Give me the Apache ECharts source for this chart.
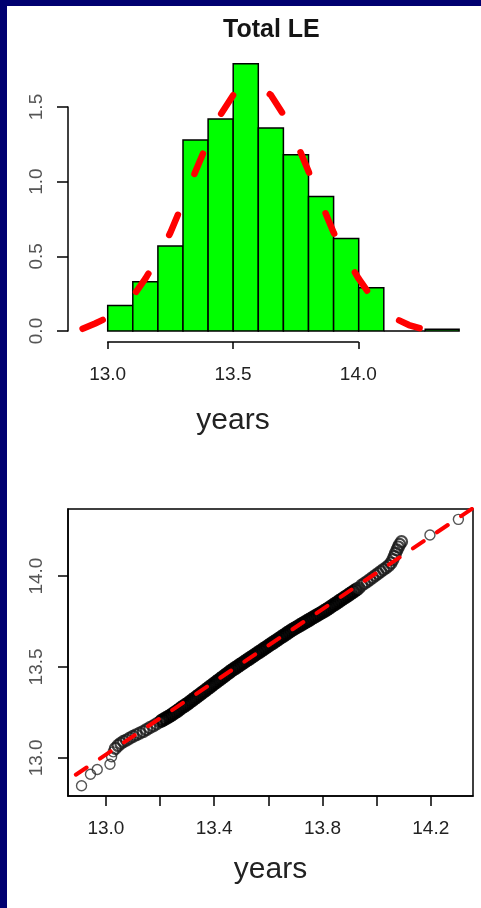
<!DOCTYPE html>
<html><head><meta charset="utf-8">
<script src="https://cdn.jsdelivr.net/npm/echarts@6/dist/echarts.min.js"></script>
<style>html,body{margin:0;padding:0;background:#fff;}#c{width:481px;height:908px;}</style>
</head><body><div id="c"></div>
<script>
// ---------- data ----------
const histTitle = 'Total LE';
const axisTitle = 'years';
// histogram bins (edges) and densities
const binEdges = [13.0, 13.1, 13.2, 13.3, 13.4, 13.5, 13.6, 13.7, 13.8, 13.9, 14.0, 14.1, 14.265, 14.4];
const binDensity = [0.17, 0.33, 0.57, 1.28, 1.42, 1.79, 1.36, 1.18, 0.90, 0.62, 0.29, 0.0, 0.012];
// fitted density curve
const curveX = [12.90, 12.95, 13.00, 13.05, 13.10, 13.15, 13.20, 13.25, 13.30, 13.35, 13.40, 13.45, 13.50, 13.55,
                13.60, 13.65, 13.70, 13.75, 13.80, 13.85, 13.90, 13.95, 14.00, 14.05, 14.10, 14.15, 14.20, 14.25];
const curveY = [0.015, 0.05, 0.09, 0.15, 0.23, 0.35, 0.49, 0.66, 0.86, 1.07, 1.27, 1.45, 1.58, 1.65,
                1.65, 1.58, 1.45, 1.27, 1.07, 0.86, 0.66, 0.49, 0.35, 0.23, 0.15, 0.08, 0.04, 0.015];
const histXTicks = [13.0, 13.5, 14.0];
const histYTicks = [0.0, 0.5, 1.0, 1.5];
// QQ plot points: theoretical (x) and sample (y) quantiles
const qqTheo = [12.910, 12.943, 12.968, 13.015, 13.021, 13.027,
  13.035, 13.045, 13.055, 13.065, 13.076, 13.088, 13.100, 13.112, 13.125, 13.138, 13.150, 13.162, 13.175, 13.187, 13.199,
  13.207, 13.215, 13.223, 13.231, 13.239, 13.247, 13.255, 13.263, 13.271, 13.279, 13.287, 13.295, 13.303, 13.311, 13.319,
  13.327, 13.335, 13.343, 13.351, 13.359, 13.367, 13.375, 13.383, 13.391, 13.399, 13.407, 13.415, 13.423, 13.431, 13.439,
  13.447, 13.455, 13.463, 13.471, 13.479, 13.487, 13.495, 13.503, 13.511, 13.519, 13.527, 13.535, 13.543, 13.551, 13.559,
  13.567, 13.575, 13.583, 13.591, 13.599, 13.607, 13.615, 13.623, 13.631, 13.639, 13.647, 13.655, 13.663, 13.671, 13.679,
  13.687, 13.695, 13.703, 13.711, 13.719, 13.727, 13.735, 13.743, 13.751, 13.759, 13.767, 13.775, 13.783, 13.791, 13.799,
  13.807, 13.815, 13.823, 13.831, 13.839, 13.847, 13.855, 13.863, 13.871, 13.879, 13.887, 13.895, 13.903, 13.911, 13.919,
  13.927, 13.935, 13.945, 13.955, 13.965, 13.975, 13.985, 13.995, 14.005, 14.015, 14.025, 14.035, 14.045, 14.053, 14.060,
  14.065, 14.070, 14.075, 14.080, 14.085, 14.092, 14.197, 14.302];
const qqSample = [12.846, 12.910, 12.936, 12.965, 13.006, 13.033,
  13.052, 13.068, 13.080, 13.090, 13.098, 13.108, 13.118, 13.127, 13.136, 13.145, 13.156, 13.166, 13.176, 13.187, 13.198,
  13.205, 13.212, 13.219, 13.226, 13.233, 13.241, 13.249, 13.257, 13.266, 13.275, 13.283, 13.291, 13.299, 13.308, 13.317,
  13.326, 13.335, 13.344, 13.353, 13.362, 13.371, 13.380, 13.389, 13.398, 13.407, 13.416, 13.425, 13.434, 13.443, 13.452,
  13.461, 13.470, 13.479, 13.487, 13.495, 13.503, 13.511, 13.519, 13.527, 13.535, 13.543, 13.551, 13.559, 13.567, 13.575,
  13.583, 13.591, 13.599, 13.607, 13.615, 13.623, 13.631, 13.639, 13.647, 13.655, 13.663, 13.671, 13.679, 13.687, 13.695,
  13.703, 13.710, 13.717, 13.724, 13.731, 13.738, 13.745, 13.752, 13.759, 13.766, 13.773, 13.780, 13.787, 13.794, 13.801,
  13.808, 13.815, 13.823, 13.831, 13.839, 13.847, 13.855, 13.863, 13.871, 13.879, 13.887, 13.895, 13.903, 13.911, 13.919,
  13.927, 13.935, 13.950, 13.960, 13.970, 13.981, 13.992, 14.003, 14.014, 14.025, 14.036, 14.046, 14.058, 14.072, 14.090,
  14.108, 14.126, 14.144, 14.160, 14.174, 14.189, 14.226, 14.312];
const qqLineX = [12.80, 14.40];
const qqLineY = [12.818, 14.418];
const qqXTicks = [13.0, 13.2, 13.4, 13.6, 13.8, 14.0, 14.2];
const qqXLabels = [13.0, 13.4, 13.8, 14.2];
const qqYTicks = [13.0, 13.5, 14.0];

// ---------- chart ----------
const FONT = 'Liberation Sans, Arial, sans-serif';
const fmt1 = v => Number(v).toFixed(1);
const chart = echarts.init(document.getElementById('c'), null, {renderer: 'canvas'});
const bars = binDensity.map((d, i) => [binEdges[i], binEdges[i + 1], d]);
const curve = curveX.map((x, i) => [x, curveY[i]]);
const nQ = qqTheo.length;
// ring weight: isolated tail points thin, dense core heavy (overplotting look)
const qq = qqTheo.map((x, i) => {
  let bw = 1.4, sz = 10, col = '#2a2a2a';
  if (i >= 6 && i < 21) { bw = 2.2; sz = 11; col = '#1a1a1a'; }
  else if (i >= 21 && i < 112) { bw = 3.2; sz = 11; col = '#000'; }
  else if (i >= 112 && i < nQ - 2) { bw = 2.2; sz = 11; col = '#1a1a1a'; }
  return {value: [x, qqSample[i]], symbolSize: sz, itemStyle: {borderWidth: bw, borderColor: col}};
});
const qqLine = qqLineX.map((x, i) => [x, qqLineY[i]]);

const hiddenAxis = (extra) => Object.assign({type: 'value', show: false, splitLine: {show: false}}, extra);
const blackLine = {show: true, lineStyle: {color: '#000', width: 1.5}};

chart.setOption({
  animation: false,
  backgroundColor: '#fff',
  title: {
    text: histTitle, left: 223, top: 18, padding: 0,
    textStyle: {fontSize: 25, fontWeight: 'bold', color: '#151515', fontFamily: FONT}
  },
  graphic: [
    {type: 'rect', shape: {x: 0, y: 0, width: 7, height: 908}, style: {fill: '#000070'}, silent: true},
    {type: 'rect', shape: {x: 0, y: 0, width: 481, height: 6}, style: {fill: '#000070'}, silent: true}
  ],
  grid: [
    {left: 57.5, top: 47.3, width: 401.6, height: 283.7, outerBoundsMode: 'none'},
    {left: 68, top: 107, width: 10, height: 224, outerBoundsMode: 'none'},
    {left: 107.7, top: 300, width: 250.6, height: 42, outerBoundsMode: 'none'},
    {left: 68, top: 509, width: 405, height: 287, show: true, borderColor: '#000', borderWidth: 1.5,
     backgroundColor: 'transparent', outerBoundsMode: 'none'}
  ],
  xAxis: [
    hiddenAxis({gridIndex: 0, min: 12.8, max: 14.4}),
    hiddenAxis({gridIndex: 1, min: 0, max: 1}),
    {type: 'value', gridIndex: 2, min: histXTicks[0], max: histXTicks[histXTicks.length - 1], interval: 0.5,
     axisLine: blackLine, axisTick: {show: true, length: 7, lineStyle: {color: '#000', width: 1.5}},
     splitLine: {show: false},
     axisLabel: {formatter: fmt1, fontSize: 19, color: '#222', fontFamily: FONT, margin: 23, lineHeight: 20},
     name: axisTitle, nameLocation: 'middle', nameGap: 64,
     nameTextStyle: {fontSize: 30, color: '#222', fontFamily: FONT, lineHeight: 30}},
    {type: 'value', gridIndex: 3, min: 12.86, max: 14.356,
     axisLine: blackLine, axisTick: {show: true, length: 10, customValues: qqXTicks, lineStyle: {color: '#000', width: 1.5}},
     splitLine: {show: false},
     axisLabel: {customValues: qqXLabels, formatter: fmt1, fontSize: 19, color: '#222', fontFamily: FONT, margin: 23, lineHeight: 20},
     name: axisTitle, nameLocation: 'middle', nameGap: 59,
     nameTextStyle: {fontSize: 30, color: '#222', fontFamily: FONT, lineHeight: 30}}
  ],
  yAxis: [
    hiddenAxis({gridIndex: 0, min: 0, max: 1.9}),
    {type: 'value', gridIndex: 1, min: histYTicks[0], max: histYTicks[histYTicks.length - 1], interval: 0.5,
     axisLine: blackLine, axisTick: {show: true, length: 11, lineStyle: {color: '#000', width: 1.5}},
     splitLine: {show: false},
     axisLabel: {formatter: fmt1, rotate: 90, fontSize: 19, color: '#555', fontFamily: FONT, margin: 21, lineHeight: 20}},
    hiddenAxis({gridIndex: 2, min: 0, max: 1}),
    {type: 'value', gridIndex: 3, min: 12.79, max: 14.369,
     axisLine: blackLine, axisTick: {show: true, length: 10, customValues: qqYTicks, lineStyle: {color: '#000', width: 1.5}},
     splitLine: {show: false},
     axisLabel: {customValues: qqYTicks, formatter: fmt1, rotate: 90, fontSize: 19, color: '#555', fontFamily: FONT, margin: 21, lineHeight: 20}}
  ],
  series: [
    {
      type: 'custom', xAxisIndex: 0, yAxisIndex: 0, data: bars, z: 2,
      encode: {x: [0, 1], y: 2},
      renderItem: (params, api) => {
        const p0 = api.coord([api.value(0), api.value(2)]);
        const p1 = api.coord([api.value(1), 0]);
        return {type: 'rect', shape: {x: p0[0], y: p0[1], width: p1[0] - p0[0], height: p1[1] - p0[1]},
                style: {fill: '#00ff00', stroke: '#000', lineWidth: 1.5}};
      }
    },
    {
      type: 'line', xAxisIndex: 0, yAxisIndex: 0, data: curve, z: 5, showSymbol: false, symbol: 'none',
      lineStyle: {color: '#ff0000', width: 6.5, type: [22, 44], cap: 'round', join: 'round'}
    },
    {
      type: 'scatter', xAxisIndex: 3, yAxisIndex: 3, data: qq, z: 3, symbol: 'circle', symbolSize: 10,
      itemStyle: {color: 'rgba(0,0,0,0)', borderColor: '#1e1e1e', borderWidth: 1.5}
    },
    {
      type: 'line', xAxisIndex: 3, yAxisIndex: 3, data: qqLine, z: 6, showSymbol: false, symbol: 'none', clip: true,
      lineStyle: {color: '#ff0000', width: 4, type: [13, 16], cap: 'round'}
    }
  ]
});
</script>
</body></html>
